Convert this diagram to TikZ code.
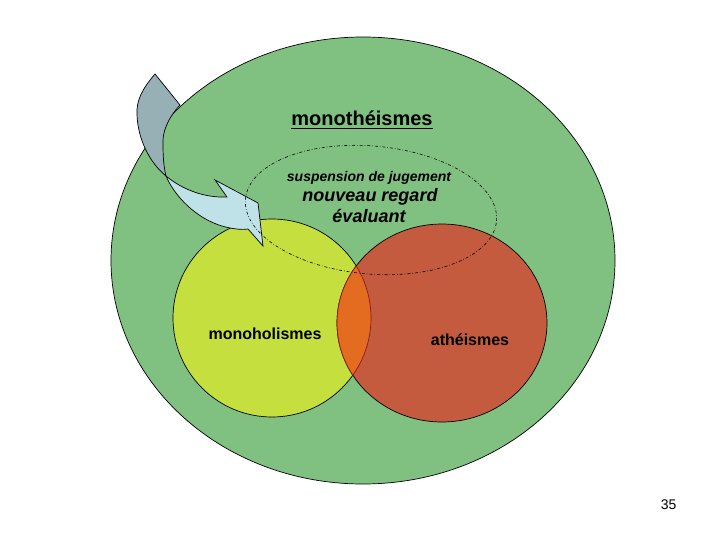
\documentclass[tikz,border=0pt]{standalone}
\usepackage{fontspec}
\setmainfont{Liberation Sans}
\usepackage{xcolor}
\definecolor{outergreen}{RGB}{128,192,128}
\definecolor{holgreen}{RGB}{197,223,62}
\definecolor{athred}{RGB}{196,91,62}
\definecolor{lensorange}{RGB}{228,108,32}
\definecolor{lensred}{RGB}{140,25,20}
\definecolor{arrowback}{RGB}{150,176,181}
\definecolor{arrowfront}{RGB}{190,226,232}

\begin{document}
\begin{tikzpicture}[
        x=1pt,
        y=-1pt,
        every node/.style={
            inner sep=0pt,
            anchor=base,
            text=black
        },
        venn/.style={draw=black, line width=0.7pt},
        lensedge/.style={draw=lensred, line width=0.7pt},
        setlabel/.style={font=\bfseries\fontsize{16}{19}\selectfont}
    ]
    \useasboundingbox (0,0) rectangle (720,540);

    % outer set
    \filldraw[venn, fill=outergreen] (363,260.5) ellipse (252pt and 223.5pt);

    % the two inner sets
    \filldraw[venn, fill=holgreen] (272,318) circle (99pt);
    \filldraw[venn, fill=athred] (442,323) ellipse (105pt and 99pt);
    \begin{scope}
        \clip (272,318) circle (99pt);
        \fill[lensorange] (442,323) ellipse (105pt and 99pt);
        \draw[lensedge] (442,323) ellipse (105pt and 99pt);
    \end{scope}
    \begin{scope}
        \clip (442,323) ellipse (105pt and 99pt);
        \draw[lensedge] (272,318) circle (99pt);
    \end{scope}

    % curved arrow
    \filldraw[venn, fill=arrowback] (155,74) -- (180,105)
        .. controls (168,118) and (162,132) .. (163,145)
        .. controls (163,158) and (164,168) .. (166,176)
        .. controls (150,163) and (138,140) .. (137,115)
        .. controls (136,100) and (143,88) .. (155,74) -- cycle;
    \filldraw[venn, fill=arrowfront] (166,176)
        .. controls (174,195) and (195,218) .. (222,226)
        .. controls (232,229) and (242,230) .. (248,229)
        -- (263,246) -- (258,203) -- (215,180) -- (227,197)
        .. controls (205,198) and (183,190) .. (166,176) -- cycle;

    % suspended judgement
    \draw[line width=0.6pt, dash dot] (371,210) ellipse [x radius=126pt, y radius=64pt, rotate=-5];

    % labels
    \node[font=\bfseries\fontsize{20}{24}\selectfont] (mono) at (362,126) {monothéismes};
    \draw[line width=1.2pt] ([yshift=-2.5pt]mono.base west) -- ([yshift=-2.5pt]mono.base east);
    \node[font=\bfseries\itshape\fontsize{14}{17}\selectfont] (susp) at (369,182) {suspension de jugement};
    \node[font=\bfseries\itshape\fontsize{18}{21}\selectfont] (regard) at (370,201.5) {nouveau regard};
    \node[font=\bfseries\itshape\fontsize{18}{21}\selectfont] (eval) at (369,222.5) {évaluant};
    \node[setlabel] (holis) at (265,339.3) {monoholismes};
    \node[setlabel] (athe) at (470,345.7) {athéismes};
    \node[font=\fontsize{14}{17}\selectfont] (page) at (668.7,509) {35};

\end{tikzpicture}
\end{document}
